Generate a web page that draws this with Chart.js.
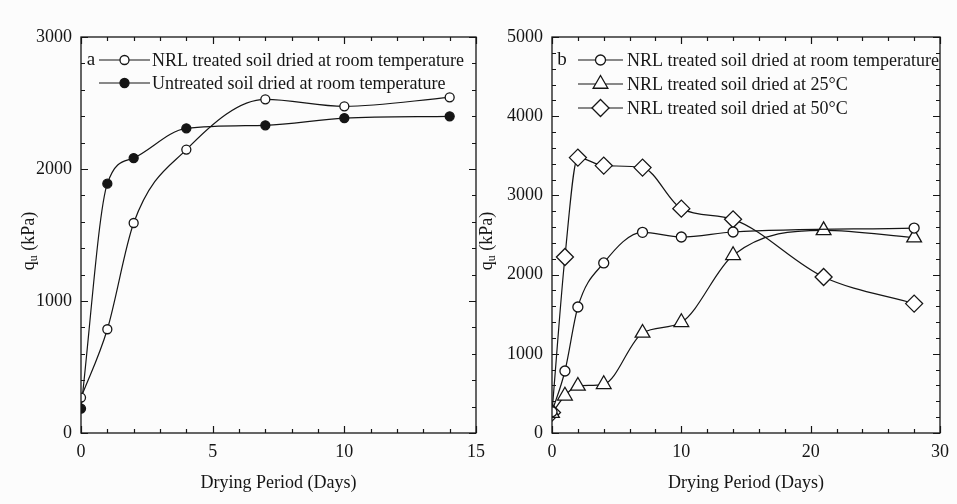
<!DOCTYPE html>
<html>
<head>
<meta charset="utf-8">
<script src="https://cdn.jsdelivr.net/npm/chart.js@4.4.0/dist/chart.umd.min.js"></script>
<style>
    html, body { margin: 0; padding: 0; background: #fcfcfc; }
    #wrap { position: relative; width: 957px; height: 504px; overflow: hidden; }
    .panel { position: absolute; top: 0; height: 504px; }
</style>
</head>
<body>
<div id="wrap">
    <div class="panel" style="left:0;width:500px"><canvas id="chartA"></canvas></div>
    <div class="panel" style="left:478px;width:479px"><canvas id="chartB"></canvas></div>
</div>
<script>
// ---- panel a ----
const daysA = [0, 1, 2, 4, 7, 10, 14];
const nrlRoomA = [268, 786, 1591, 2147, 2528, 2475, 2543];
const untreatedRoomA = [185, 1889, 2083, 2308, 2331, 2386, 2399];

// ---- panel b ----
const daysRoomB = [0, 1, 2, 4, 7, 10, 14, 28];
const nrlRoomB = [268, 783, 1591, 2147, 2534, 2475, 2538, 2588];
const days25B = [0, 1, 2, 4, 7, 10, 14, 21, 28];
const nrl25B = [250, 470, 594, 615, 1263, 1398, 2244, 2559, 2467];
const days50B = [0, 1, 2, 4, 7, 10, 14, 21, 28];
const nrl50B = [258, 2222, 3477, 3376, 3351, 2833, 2698, 1970, 1634];

const labelsA = ['NRL treated soil dried at room temperature', 'Untreated soil dried at room temperature'];
const labelsB = ['NRL treated soil dried at room temperature', 'NRL treated soil dried at 25\u00B0C', 'NRL treated soil dried at 50\u00B0C'];

const FONT = "'Liberation Serif', 'Times New Roman', serif";
const INK = '#151515';

const pairs = (xs, ys) => xs.map((x, i) => ({ x: x, y: ys[i] }));

function series(label, data, style, radius, fill) {
    return {
        label: label,
        data: data,
        borderColor: INK,
        borderWidth: 1.2,
        cubicInterpolationMode: 'monotone',
        pointStyle: style,
        pointRadius: radius,
        pointHoverRadius: radius,
        pointBackgroundColor: fill,
        pointBorderColor: INK,
        pointBorderWidth: 1.3
    };
}

// Frame, inward ticks on all four sides, y title with subscript, custom legend
const framePlugin = {
    id: 'frame',
    afterDraw(chart, args, opts) {
        const { ctx, chartArea: a, scales } = chart;
        const x = scales.x, y = scales.y;
        ctx.save();
        ctx.strokeStyle = INK;
        ctx.lineWidth = 1.3;
        ctx.strokeRect(a.left, a.top, a.right - a.left, a.bottom - a.top);

        const isMajor = (v, step) => Math.abs(v / step - Math.round(v / step)) < 1e-6;
        ctx.lineWidth = 1.2;
        ctx.beginPath();
        for (let v = x.min; v <= x.max + 1e-9; v += opts.xMinor) {
            const px = Math.round(x.getPixelForValue(v)) + 0.5;
            const len = isMajor(v, opts.xMajor) ? 7 : 4;
            ctx.moveTo(px, a.bottom); ctx.lineTo(px, a.bottom - len);
            ctx.moveTo(px, a.top); ctx.lineTo(px, a.top + len);
        }
        for (let v = y.min; v <= y.max + 1e-9; v += opts.yMinor) {
            const py = Math.round(y.getPixelForValue(v)) + 0.5;
            const len = isMajor(v, opts.yMajor) ? 7 : 4;
            ctx.moveTo(a.left, py); ctx.lineTo(a.left + len, py);
            ctx.moveTo(a.right, py); ctx.lineTo(a.right - len, py);
        }
        ctx.stroke();

        // y axis title: q_u (kPa)
        ctx.save();
        ctx.translate(opts.titleX, (a.top + a.bottom) / 2 + 6);
        ctx.rotate(-Math.PI / 2);
        ctx.fillStyle = INK;
        ctx.textBaseline = 'middle';
        const big = '18px ' + FONT, small = '12px ' + FONT;
        ctx.font = big; const wq = ctx.measureText('q').width;
        ctx.font = small; const wu = ctx.measureText('u').width;
        ctx.font = big; const wr = ctx.measureText(' (kPa)').width;
        let tx = -(wq + wu + wr) / 2;
        ctx.font = big; ctx.fillText('q', tx, 0); tx += wq;
        ctx.font = small; ctx.fillText('u', tx, 5); tx += wu;
        ctx.font = big; ctx.fillText(' (kPa)', tx, 0);
        ctx.restore();

        // legend
        const lg = opts.legend;
        ctx.fillStyle = INK;
        ctx.textBaseline = 'middle';
        ctx.font = '19px ' + FONT;
        ctx.textAlign = 'center';
        ctx.fillText(lg.letter, lg.letterX, lg.y);
        ctx.textAlign = 'left';
        ctx.font = '18px ' + FONT;
        chart.data.datasets.forEach((ds, i) => {
            const ry = lg.y + i * lg.rowH;
            ctx.strokeStyle = INK;
            ctx.lineWidth = 1.2;
            ctx.beginPath();
            ctx.moveTo(lg.x0, ry); ctx.lineTo(lg.x1, ry);
            ctx.stroke();
            ctx.fillStyle = ds.pointBackgroundColor;
            ctx.lineWidth = ds.pointBorderWidth;
            Chart.helpers.drawPoint(ctx, {
                pointStyle: ds.pointStyle, radius: ds.pointRadius, rotation: 0, borderWidth: ds.pointBorderWidth
            }, (lg.x0 + lg.x1) / 2, ry);
            ctx.fillStyle = INK;
            ctx.fillText(ds.label, lg.textX, ry + 1);
        });
        ctx.restore();
    }
};

function buildOptions(xMax, xStep, yMax, yWidth, padRight, frame) {
    const tickFont = { family: FONT, size: 18 };
    return {
        responsive: true,
        maintainAspectRatio: false,
        animation: false,
        layout: { padding: { top: 37, right: padRight, left: 0, bottom: 0 } },
        plugins: {
            legend: { display: false },
            tooltip: { enabled: false },
            frame: frame
        },
        scales: {
            x: {
                type: 'linear',
                min: 0,
                max: xMax,
                grid: { display: false, drawTicks: false },
                border: { display: false },
                ticks: { stepSize: xStep, font: tickFont, color: INK, padding: 8, maxRotation: 0,
                         callback: v => String(v) },
                title: {
                    display: true,
                    text: 'Drying Period (Days)',
                    font: tickFont,
                    color: INK,
                    padding: { top: 4, bottom: 10 }
                },
                afterFit(s) { s.height = 71; }
            },
            y: {
                type: 'linear',
                min: 0,
                max: yMax,
                grid: { display: false, drawTicks: false },
                border: { display: false },
                ticks: { stepSize: 1000, font: tickFont, color: INK, padding: 9,
                         callback: v => String(v) },
                afterFit(s) { s.width = yWidth; }
            }
        }
    };
}

new Chart(document.getElementById('chartA'), {
    type: 'line',
    data: {
        datasets: [
            series(labelsA[0], pairs(daysA, nrlRoomA), 'circle', 4.5, '#ffffff'),
            series(labelsA[1], pairs(daysA, untreatedRoomA), 'circle', 4.5, INK)
        ]
    },
    options: buildOptions(15, 5, 3000, 81, 24, {
        xMinor: 1, xMajor: 5, yMinor: 200, yMajor: 1000, titleX: 29,
        legend: { letter: 'a', letterX: 91, y: 60, rowH: 23, x0: 99, x1: 150, textX: 152 }
    }),
    plugins: [framePlugin]
});

new Chart(document.getElementById('chartB'), {
    type: 'line',
    data: {
        datasets: [
            series(labelsB[0], pairs(daysRoomB, nrlRoomB), 'circle', 5, '#ffffff'),
            series(labelsB[1], pairs(days25B, nrl25B), 'triangle', 8.5, '#ffffff'),
            series(labelsB[2], pairs(days50B, nrl50B), 'rectRot', 8.5, '#ffffff')
        ]
    },
    options: buildOptions(30, 10, 5000, 74, 10, {
        xMinor: 2, xMajor: 10, yMinor: 200, yMajor: 1000, titleX: 9,
        legend: { letter: 'b', letterX: 84, y: 60, rowH: 24, x0: 100, x1: 145, textX: 149 }
    }),
    plugins: [framePlugin]
});
</script>
</body>
</html>
